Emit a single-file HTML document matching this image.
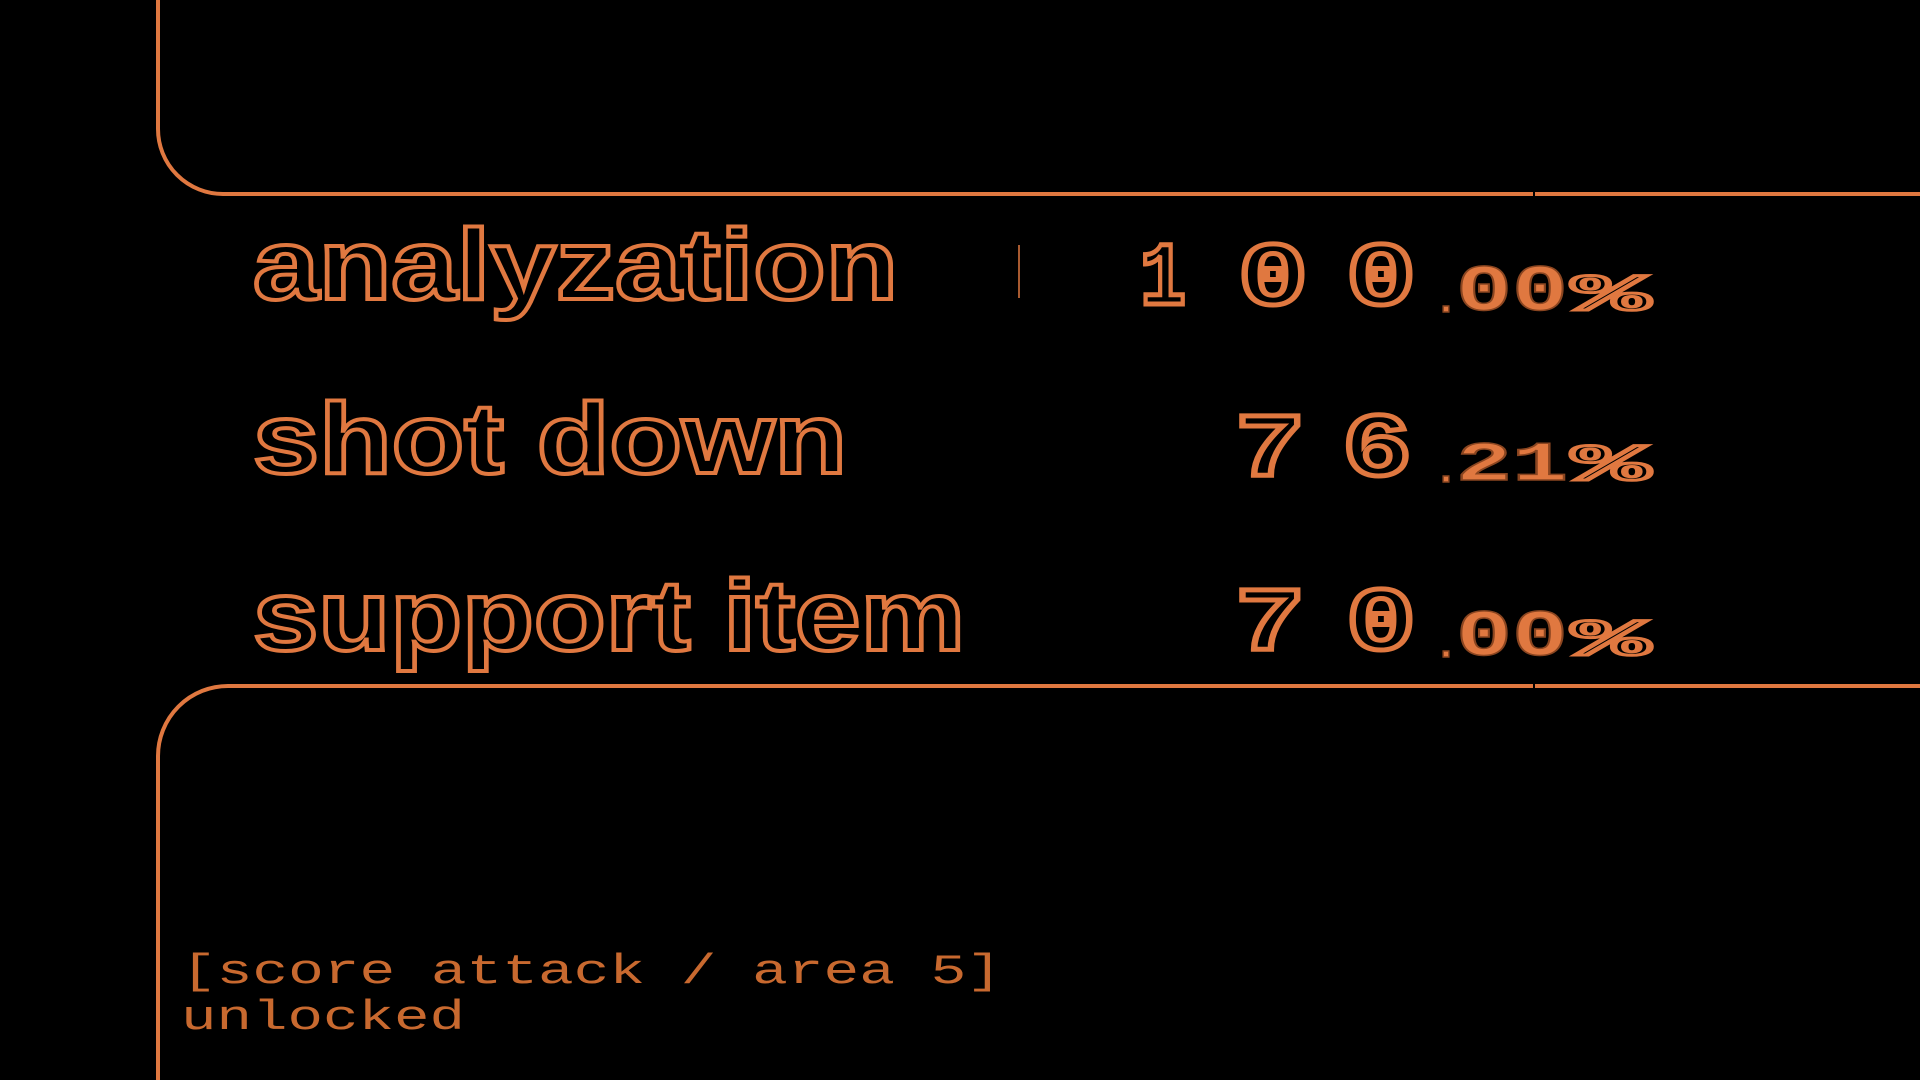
<!DOCTYPE html>
<html><head><meta charset="utf-8"><style>
html,body{margin:0;padding:0;background:#000;width:1920px;height:1080px;overflow:hidden}
svg{display:block}
.big{font-family:"Liberation Sans",sans-serif;font-weight:bold;fill:none;stroke:#e07840;stroke-width:4}
.dig{font-family:"Liberation Mono",monospace;font-weight:bold;fill:none;stroke:#e07840;stroke-width:5}
.sm{font-family:"Liberation Mono",monospace;font-weight:bold;fill:#e07840;stroke:#8a4520;stroke-width:1.5}
.pc{font-family:"Liberation Mono",monospace;font-weight:bold;fill:none;stroke:#e07840;stroke-width:3}
.low{font-family:"Liberation Mono",monospace;fill:#c8692f}
</style></head><body>
<svg width="1920" height="1080" viewBox="0 0 1920 1080">
<path d="M158 0 V129 A65 65 0 0 0 223 194 H1920" fill="none" stroke="#e07840" stroke-width="4"/>
<path d="M158 1080 V756 A70 70 0 0 1 228 686 H1920" fill="none" stroke="#e07840" stroke-width="4"/>
<line x1="1534" y1="190" x2="1534" y2="198" stroke="#000" stroke-width="2"/>
<line x1="1534" y1="682" x2="1534" y2="690" stroke="#000" stroke-width="2"/>
<line x1="1019" y1="245" x2="1019" y2="298" stroke="#e07840" stroke-width="1.5"/>

<text class="big" x="253" y="299" font-size="100" textLength="645" lengthAdjust="spacingAndGlyphs">analyzation</text>
<text class="big" x="253" y="473" font-size="100" textLength="594" lengthAdjust="spacingAndGlyphs">shot down</text>
<text class="big" x="253" y="650" font-size="100" textLength="712" lengthAdjust="spacingAndGlyphs">support item</text>

<text class="dig" x="1140" y="304" font-size="90" textLength="46" lengthAdjust="spacingAndGlyphs">1</text>
<text class="dig" x="1238" y="304" font-size="90" textLength="70" lengthAdjust="spacingAndGlyphs">0</text>
<text class="dig" x="1346" y="304" font-size="90" textLength="70" lengthAdjust="spacingAndGlyphs">0</text>
<text class="sm" x="1434" y="312" font-size="40">.</text>
<text class="sm" x="1456" y="310" font-size="66" textLength="112" lengthAdjust="spacingAndGlyphs">00</text>
<text class="pc" x="1572" y="310" font-size="52" textLength="78" lengthAdjust="spacingAndGlyphs">%</text>

<text class="dig" x="1235" y="475" font-size="90" textLength="70" lengthAdjust="spacingAndGlyphs">7</text>
<text class="dig" x="1342" y="475" font-size="90" textLength="70" lengthAdjust="spacingAndGlyphs">6</text>
<text class="sm" x="1434" y="482" font-size="40">.</text>
<text class="sm" x="1456" y="480" font-size="56" textLength="112" lengthAdjust="spacingAndGlyphs">21</text>
<text class="pc" x="1572" y="480" font-size="52" textLength="78" lengthAdjust="spacingAndGlyphs">%</text>

<text class="dig" x="1235" y="649" font-size="90" textLength="70" lengthAdjust="spacingAndGlyphs">7</text>
<text class="dig" x="1346" y="649" font-size="90" textLength="70" lengthAdjust="spacingAndGlyphs">0</text>
<text class="sm" x="1434" y="657" font-size="40">.</text>
<text class="sm" x="1456" y="655" font-size="66" textLength="112" lengthAdjust="spacingAndGlyphs">00</text>
<text class="pc" x="1572" y="655" font-size="52" textLength="78" lengthAdjust="spacingAndGlyphs">%</text>

<text class="low" x="181" y="983" font-size="42" textLength="821" lengthAdjust="spacingAndGlyphs">[score attack / area 5]</text>
<text class="low" x="181" y="1029" font-size="42" textLength="284" lengthAdjust="spacingAndGlyphs">unlocked</text>
</svg>
</body></html>
